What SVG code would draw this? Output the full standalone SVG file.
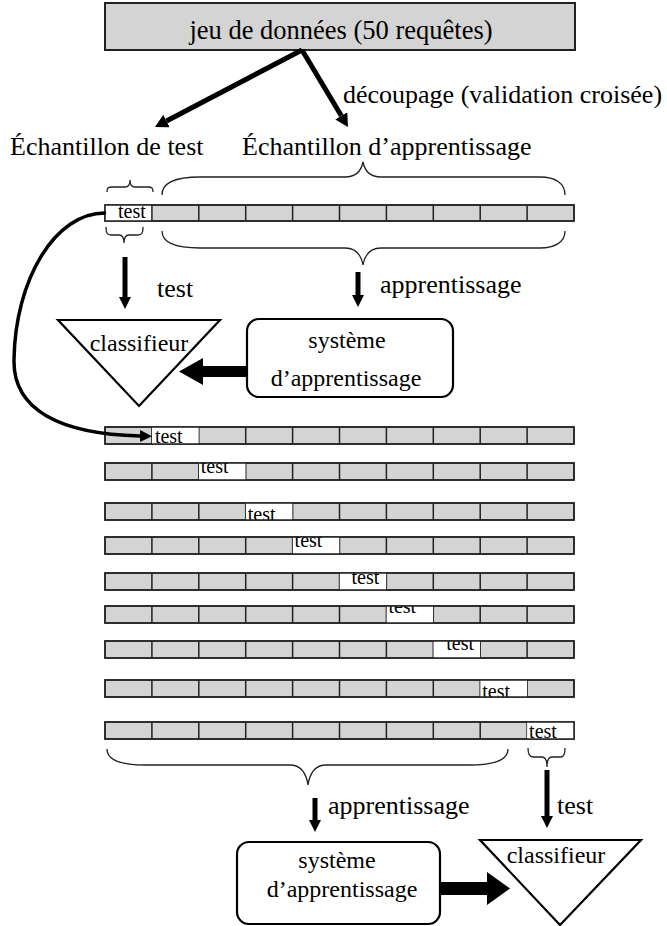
<svg xmlns="http://www.w3.org/2000/svg" width="667" height="926" viewBox="0 0 667 926">
<style>
text{font-family:'Liberation Serif','DejaVu Serif',serif;fill:#000}
.lbl{font-size:26px}
.box{font-size:24px}
.cell{font-size:20px}
.strip{fill:#d4d4d4;stroke:#222;stroke-width:1.5}
.div{stroke:#222;stroke-width:1.5}
.white{fill:#fff}
.brace{fill:none;stroke:#222;stroke-width:1.3}
.arrow{fill:none;stroke:#000;stroke-width:5}
.thin{fill:none;stroke:#000;stroke-width:3.5}
.shape{fill:#fff;stroke:#000;stroke-width:2.2}
</style>
<defs>
<marker id="ah" markerUnits="userSpaceOnUse" markerWidth="14" markerHeight="14" refX="0" refY="7" orient="auto" viewBox="0 0 14 14">
<path d="M0,0 L13,7 L0,14 z" fill="#000"/>
</marker>
<marker id="ah2" markerUnits="userSpaceOnUse" markerWidth="13" markerHeight="12" refX="0" refY="6" orient="auto" viewBox="0 0 13 12">
<path d="M0,0 L12,6 L0,12 z" fill="#000"/>
</marker>
<g id="stripbase">
<rect class="strip" x="105" y="0" width="469" height="17"/>
<path class="div" d="M151.9,0V17M198.8,0V17M245.7,0V17M292.6,0V17M339.5,0V17M386.4,0V17M433.3,0V17M480.2,0V17M527.1,0V17"/>
</g>
</defs>

<g font-family="Liberation Serif, DejaVu Serif, serif">
<g id="dataset">
<rect x="105" y="3" width="470" height="47" fill="#d4d4d4" stroke="#222" stroke-width="2"/>
<text class="lbl" x="341" y="39" text-anchor="middle" style="font-size:26.5px">jeu de données (50 requêtes)</text>
</g>

<g id="labels">
<text class="lbl" x="343" y="103">découpage (validation croisée)</text>
<text class="lbl" x="10" y="155">Échantillon de test</text>
<text class="lbl" x="242" y="155">Échantillon d’apprentissage</text>
<text class="lbl" x="157" y="297">test</text>
<text class="lbl" x="380" y="293">apprentissage</text>
<text class="lbl" x="328" y="814">apprentissage</text>
<text class="lbl" x="557" y="814">test</text>
</g>

<g id="braces">
<path class="brace" d="M107,192 C107,188 108,187 112,187 L125,187 C128,187 130,185 130,180 C130,185 132,187 135,187 L148,187 C152,187 153,188 153,192"/>
<path class="brace" d="M162,195 C162,183 175,177 200,177 L345,177 C355,177 361,172 363,162 C365,172 371,177 381,177 L540,177 C555,177 565,183 565,195"/>
<path class="brace" d="M106,227 C106,233 107,235 111,235 L119,235 C122,235 124,237 124,243 C124,237 126,235 129,235 L138,235 C142,235 143,233 143,227"/>
<path class="brace" d="M162,231 C162,242 175,248 200,248 L345,248 C355,248 361,254 363,265 C365,254 371,248 381,248 L540,248 C555,248 565,242 565,231"/>
<path class="brace" d="M107,749 C107,760 120,765 145,765 L290,765 C300,765 306,772 308,785 C310,772 316,765 326,765 L470,765 C495,765 508,760 508,749"/>
<path class="brace" d="M528,748 C528,754 529,757 533,757 L542,757 C545,757 547,760 547,767 C547,760 549,757 552,757 L561,757 C564,757 565,754 565,748"/>
</g>

<g id="strip0">
<rect class="strip" x="105" y="205" width="469" height="16"/>
<rect class="white" x="105" y="205" width="46.9" height="16"/>
<path class="div" d="M151.9,205V221M198.8,205V221M245.7,205V221M292.6,205V221M339.5,205V221M386.4,205V221M433.3,205V221M480.2,205V221M527.1,205V221"/>
<rect x="105" y="205" width="469" height="16" fill="none" stroke="#222" stroke-width="1.5"/>
<text class="cell" x="118" y="218">test</text>
</g>

<g id="classifier1">
<polygon class="shape" points="58,320 220,320 139,406"/>
<text class="box" x="139" y="351" text-anchor="middle">classifieur</text>
</g>

<g id="system1">
<rect class="shape" x="247" y="319" width="206" height="78" rx="12" stroke-width="2.5"/>
<text class="box" x="347" y="348" text-anchor="middle">système</text>
<text class="box" x="346" y="386" text-anchor="middle">d’apprentissage</text>
</g>

<g id="strips">
<g id="stripA"><use href="#stripbase" y="427"/><svg x="151.9" y="427" width="46.9" height="17"><rect class="white" width="46.9" height="17"/><text class="cell" x="3" y="16">test</text></svg><rect x="105" y="427" width="469" height="17" fill="none" stroke="#222" stroke-width="1.5"/></g>
<g id="stripB"><use href="#stripbase" y="463"/><svg x="198.8" y="463" width="46.9" height="17"><rect class="white" width="46.9" height="17"/><text class="cell" x="2" y="10">test</text></svg><rect x="105" y="463" width="469" height="17" fill="none" stroke="#222" stroke-width="1.5"/></g>
<g id="stripC"><use href="#stripbase" y="503"/><svg x="245.7" y="503" width="46.9" height="17"><rect class="white" width="46.9" height="17"/><text class="cell" x="2" y="18">test</text></svg><rect x="105" y="503" width="469" height="17" fill="none" stroke="#222" stroke-width="1.5"/></g>
<g id="stripD"><use href="#stripbase" y="537"/><svg x="292.6" y="537" width="46.9" height="17"><rect class="white" width="46.9" height="17"/><text class="cell" x="2" y="10">test</text></svg><rect x="105" y="537" width="469" height="17" fill="none" stroke="#222" stroke-width="1.5"/></g>
<g id="stripE"><use href="#stripbase" y="573"/><svg x="339.5" y="573" width="46.9" height="17"><rect class="white" width="46.9" height="17"/><text class="cell" x="12" y="11">test</text></svg><rect x="105" y="573" width="469" height="17" fill="none" stroke="#222" stroke-width="1.5"/></g>
<g id="stripF"><use href="#stripbase" y="606"/><svg x="386.4" y="606" width="46.9" height="17"><rect class="white" width="46.9" height="17"/><text class="cell" x="2" y="7">test</text></svg><rect x="105" y="606" width="469" height="17" fill="none" stroke="#222" stroke-width="1.5"/></g>
<g id="stripG"><use href="#stripbase" y="641"/><svg x="433.3" y="641" width="46.9" height="17"><rect class="white" width="46.9" height="17"/><text class="cell" x="13" y="9">test</text></svg><rect x="105" y="641" width="469" height="17" fill="none" stroke="#222" stroke-width="1.5"/></g>
<g id="stripH"><use href="#stripbase" y="680"/><svg x="480.2" y="680" width="46.9" height="17"><rect class="white" width="46.9" height="17"/><text class="cell" x="2" y="18">test</text></svg><rect x="105" y="680" width="469" height="17" fill="none" stroke="#222" stroke-width="1.5"/></g>
<g id="stripI"><use href="#stripbase" y="722"/><svg x="527.1" y="722" width="46.9" height="17"><rect class="white" width="46.9" height="17"/><text class="cell" x="2" y="16">test</text></svg><rect x="105" y="722" width="469" height="17" fill="none" stroke="#222" stroke-width="1.5"/></g>
</g>

<g id="system2">
<rect class="shape" x="237" y="842" width="203" height="82" rx="12" stroke-width="2.5"/>
<text class="box" x="337" y="868" text-anchor="middle">système</text>
<text class="box" x="342" y="897" text-anchor="middle">d’apprentissage</text>
</g>

<g id="classifier2">
<polygon class="shape" points="480,840 641,840 560,925"/>
<text class="box" x="556" y="863" text-anchor="middle">classifieur</text>
</g>
</g>

<g id="connectors">
<line class="arrow" x1="302" y1="50" x2="166.5" y2="121" marker-end="url(#ah)"/>
<line class="arrow" x1="302" y1="50" x2="341.3" y2="115.8" marker-end="url(#ah)"/>
<line class="arrow" x1="125" y1="257" x2="125" y2="297" marker-end="url(#ah2)"/>
<line class="arrow" x1="358" y1="272" x2="358" y2="295" marker-end="url(#ah2)"/>
<line class="arrow" x1="315" y1="798" x2="315" y2="820" marker-end="url(#ah2)"/>
<line class="arrow" x1="547" y1="770" x2="547" y2="816" marker-end="url(#ah2)"/>
<path class="thin" d="M106,213 C55,212 15,280 14,360 C13,410 60,434 140,436" marker-end="url(#ah2)"/>
<polygon points="247,366 203,366 203,358 179,371.5 203,385 203,377 247,377" fill="#000"/>
<polygon points="440,882 487,882 487,872 510,888.5 487,905 487,895 440,895" fill="#000"/>
</g>
</svg>
